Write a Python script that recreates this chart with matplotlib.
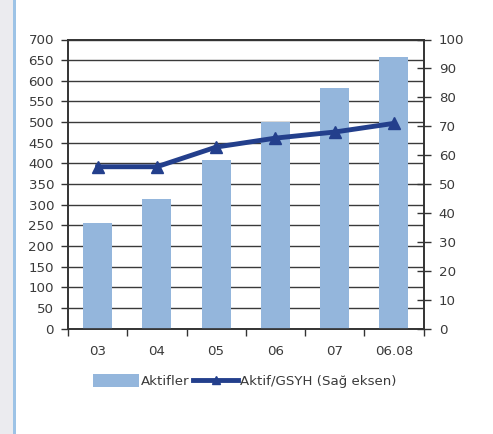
import matplotlib
matplotlib.use("Agg")
import matplotlib.pyplot as plt
from matplotlib.patches import Rectangle
import numpy as np

# Data
categories = ["03", "04", "05", "06", "07", "06.08"]
aktifler = [256, 314, 409, 501, 583, 658]
aktif_gsyh = [56, 56, 62.8, 65.9, 68, 71]

left_ticks = list(range(0, 701, 50))
right_ticks = list(range(0, 101, 10))

bar_color = "#94B6DC"
line_color = "#233F8C"
text_color = "#3A3A3A"

plt.rcParams["font.family"] = ["DejaVu Sans"]
plt.rcParams["font.size"] = 9.6

fig = plt.figure(figsize=(4.93, 4.34), dpi=100)

# Side strip and accent line
fig.patches.append(Rectangle((0, 0), 13 / 493, 1, transform=fig.transFigure,
                             facecolor="#EBEBEF", edgecolor="none", zorder=0))
fig.patches.append(Rectangle((13 / 493, 0), 3 / 493, 1, transform=fig.transFigure,
                             facecolor="#9DC3E6", edgecolor="none", zorder=0))

ax = fig.add_axes([68 / 493, 1 - 328.7 / 434, (423.5 - 68) / 493, (328.7 - 39.5) / 434])
x = np.arange(len(categories))

ax.bar(x, aktifler, width=0.49, color=bar_color, zorder=3, label="Aktifler")
ax.set_xlim(-0.5, len(categories) - 0.5)
ax.set_ylim(0, 700)
ax.set_yticks(left_ticks)
ax.set_yticklabels([str(t) for t in left_ticks], color=text_color)
ax.yaxis.grid(True, color="#3A3A3A", linewidth=1.0, zorder=1)
ax.set_axisbelow(True)

# Category ticks sit on the boundaries, labels at centres
ax.set_xticks(np.arange(-0.5, len(categories), 1.0))
ax.set_xticklabels([])
ax.set_xticks(x, minor=True)
ax.set_xticklabels(categories, minor=True, color=text_color)
ax.tick_params(axis="x", which="major", length=5, width=1, color="#333333", direction="out")
ax.tick_params(axis="x", which="minor", length=0, pad=12)
ax.tick_params(axis="y", length=5, width=1, color="#333333", direction="out", pad=5)

for s in ax.spines.values():
    s.set_color("#333333")
    s.set_linewidth(1.2)

ax2 = ax.twinx()
ax2.plot(x, aktif_gsyh, color=line_color, linewidth=3.5, marker="^",
         markersize=8, zorder=5, label="Aktif/GSYH (Sağ eksen)")
ax2.set_ylim(0, 100)
ax2.set_yticks(right_ticks)
ax2.set_yticklabels([str(t) for t in right_ticks], color=text_color)
ax2.tick_params(axis="y", length=10, width=1, color="#333333", direction="inout", pad=6)
for s in ax2.spines.values():
    s.set_color("#333333")
    s.set_linewidth(1.2)

h1, l1 = ax.get_legend_handles_labels()
h2, l2 = ax2.get_legend_handles_labels()
leg = fig.legend(h1 + h2, l1 + l2, loc="center", bbox_to_anchor=(245 / 493, 1 - 381 / 434),
                 ncol=2, frameon=False, handlelength=3.4, handleheight=1.1,
                 columnspacing=0.3, handletextpad=0.15, labelcolor=text_color,
                 borderpad=0, borderaxespad=0)
for h in leg.legend_handles:
    if hasattr(h, "set_markersize"):
        h.set_markersize(6)

fig.savefig("out.png", dpi=100)
